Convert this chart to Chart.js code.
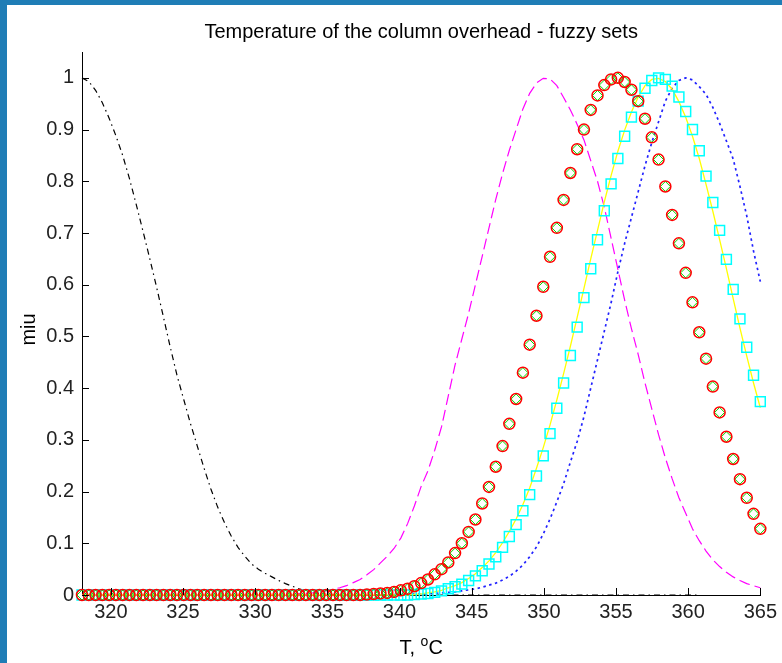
<!DOCTYPE html>
<html>
<head>
<meta charset="utf-8">
<script src="https://cdn.jsdelivr.net/npm/chart.js@4.4.1/dist/chart.umd.min.js"></script>
<style>
  html, body { margin: 0; padding: 0; background: #fff; }
  #frame {
    position: absolute; left: 0; top: 0;
    width: 782px; height: 663px; box-sizing: border-box;
    border-left: 7px solid #1f7db6; border-top: 5px solid #1f7db6;
    background: #fff;
  }
  canvas { display: block; }
</style>
</head>
<body>
<div id="frame"><canvas id="fuzzyChart" width="775" height="658"></canvas></div>
<script>
// Temperature grid, degC (101 samples from 318 to 365)
const temps = [
  318.00, 318.47, 318.94, 319.41, 319.88, 320.35, 320.82, 321.29, 321.76, 322.23,
  322.70, 323.17, 323.64, 324.11, 324.58, 325.05, 325.52, 325.99, 326.46, 326.93,
  327.40, 327.87, 328.34, 328.81, 329.28, 329.75, 330.22, 330.69, 331.16, 331.63,
  332.10, 332.57, 333.04, 333.51, 333.98, 334.45, 334.92, 335.39, 335.86, 336.33,
  336.80, 337.27, 337.74, 338.21, 338.68, 339.15, 339.62, 340.09, 340.56, 341.03,
  341.50, 341.97, 342.44, 342.91, 343.38, 343.85, 344.32, 344.79, 345.26, 345.73,
  346.20, 346.67, 347.14, 347.61, 348.08, 348.55, 349.02, 349.49, 349.96, 350.43,
  350.90, 351.37, 351.84, 352.31, 352.78, 353.25, 353.72, 354.19, 354.66, 355.13,
  355.60, 356.07, 356.54, 357.01, 357.48, 357.95, 358.42, 358.89, 359.36, 359.83,
  360.30, 360.77, 361.24, 361.71, 362.18, 362.65, 363.12, 363.59, 364.06, 364.53,
  365.00
];

// black dash-dot set (low temperature)
const lowSet = [
  1.000, 0.993, 0.976, 0.952, 0.922, 0.888, 0.850, 0.805, 0.755, 0.703,
  0.650, 0.595, 0.538, 0.480, 0.425, 0.378, 0.331, 0.288, 0.245, 0.205,
  0.170, 0.140, 0.114, 0.092, 0.075, 0.060, 0.050, 0.042, 0.035, 0.028,
  0.022, 0.017, 0.012, 0.008, 0.005, 0.003, 0.002, 0.001, 0, 0,
  0, 0, 0, 0, 0, 0, 0, 0, 0, 0,
  0, 0, 0, 0, 0, 0, 0, 0, 0, 0,
  0, 0, 0, 0, 0, 0, 0, 0, 0, 0,
  0, 0, 0, 0, 0, 0, 0, 0, 0, 0,
  0, 0, 0, 0, 0, 0, 0, 0, 0, 0,
  0, 0, null, null, null, null, null, null, null, null,
  null
];

// magenta dashed set
const magentaSet = [
  0, 0, 0, 0, 0, 0, 0, 0, 0, 0,
  0, 0, 0, 0, 0, 0, 0, 0, 0, 0,
  0, 0, 0, 0, 0, 0, 0, 0, 0, 0,
  0.001, 0.001, 0.002, 0.003, 0.004, 0.006, 0.008, 0.011, 0.014, 0.018,
  0.024, 0.030, 0.039, 0.049, 0.062, 0.075, 0.090, 0.110, 0.138, 0.172,
  0.210, 0.240, 0.280, 0.325, 0.385, 0.445, 0.495, 0.545, 0.600, 0.655,
  0.710, 0.765, 0.815, 0.860, 0.900, 0.940, 0.970, 0.990, 0.999, 0.998,
  0.985, 0.962, 0.938, 0.910, 0.880, 0.840, 0.800, 0.750, 0.690, 0.630,
  0.570, 0.515, 0.465, 0.410, 0.360, 0.310, 0.265, 0.225, 0.188, 0.158,
  0.128, 0.105, 0.085, 0.068, 0.055, 0.044, 0.035, 0.028, 0.022, 0.018,
  0.014
];

// blue dotted set
const blueSet = [
  0, 0, 0, 0, 0, 0, 0, 0, 0, 0,
  0, 0, 0, 0, 0, 0, 0, 0, 0, 0,
  0, 0, 0, 0, 0, 0, 0, 0, 0, 0,
  0, 0, 0, 0, 0, 0, 0, 0, 0, 0,
  0, 0, 0, 0, 0, 0, 0.001, 0.001, 0.001, 0.002,
  0.002, 0.003, 0.003, 0.004, 0.005, 0.006, 0.008, 0.010, 0.012, 0.015,
  0.019, 0.023, 0.029, 0.036, 0.046, 0.058, 0.074, 0.093, 0.118, 0.147,
  0.180, 0.215, 0.257, 0.297, 0.345, 0.400, 0.455, 0.510, 0.565, 0.625,
  0.680, 0.730, 0.780, 0.830, 0.875, 0.915, 0.955, 0.980, 0.995, 1.000,
  0.996, 0.983, 0.968, 0.943, 0.912, 0.878, 0.843, 0.790, 0.733, 0.665,
  0.606
];

// yellow solid set
const yellowSet = [
  0, 0, 0, 0, 0, 0, 0, 0, 0, 0,
  0, 0, 0, 0, 0, 0, 0, 0, 0, 0,
  0, 0, 0, 0, 0, 0, 0, 0, 0, 0,
  0, 0, 0, 0, 0, 0, 0, 0, 0, 0,
  0, 0, 0, 0, 0, 0, 0, 0, 0, 0.001,
  0.002, 0.004, 0.006, 0.009, 0.014, 0.018, 0.024, 0.032, 0.041, 0.053,
  0.066, 0.082, 0.101, 0.123, 0.147, 0.175, 0.207, 0.245, 0.285, 0.329,
  0.377, 0.428, 0.481, 0.537, 0.593, 0.650, 0.705, 0.760, 0.811, 0.858,
  0.899, 0.934, 0.963, 0.985, 0.997, 0.999, 0.993, 0.978, 0.954, 0.924,
  0.887, 0.844, 0.794, 0.742, 0.687, 0.631, 0.573, 0.516, 0.462, 0.410,
  0.362
];

// cyan squares
const cyanSet = [
  0, 0, 0, 0, 0, 0, 0, 0, 0, 0,
  0, 0, 0, 0, 0, 0, 0, 0, 0, 0,
  0, 0, 0, 0, 0, 0, 0, 0, 0, 0,
  0, 0, 0, 0, 0, 0, 0, 0, 0, 0,
  0, 0, 0, 0, 0, 0, 0, 0, 0, 0.001,
  0.002, 0.003, 0.005, 0.008, 0.012, 0.016, 0.021, 0.028, 0.037, 0.047,
  0.060, 0.074, 0.092, 0.113, 0.136, 0.163, 0.194, 0.230, 0.269, 0.312,
  0.361, 0.410, 0.463, 0.518, 0.575, 0.631, 0.687, 0.743, 0.795, 0.844,
  0.887, 0.924, 0.955, 0.980, 0.995, 1.000, 0.997, 0.984, 0.963, 0.935,
  0.900, 0.859, 0.810, 0.759, 0.705, 0.649, 0.591, 0.534, 0.479, 0.425,
  0.374
];

// red circles / green diamonds (same set)
const redSet = [
  0, 0, 0, 0, 0, 0, 0, 0, 0, 0,
  0, 0, 0, 0, 0, 0, 0, 0, 0, 0,
  0, 0, 0, 0, 0, 0, 0, 0, 0, 0,
  0, 0, 0, 0, 0, 0, 0, 0, 0, 0,
  0, 0, 0.001, 0.002, 0.003, 0.004, 0.006, 0.009, 0.012, 0.017,
  0.023, 0.030, 0.040, 0.050, 0.063, 0.081, 0.100, 0.122, 0.146, 0.177,
  0.209, 0.248, 0.288, 0.331, 0.379, 0.430, 0.484, 0.540, 0.596, 0.654,
  0.710, 0.764, 0.816, 0.862, 0.900, 0.938, 0.966, 0.986, 0.997, 1.000,
  0.992, 0.977, 0.955, 0.921, 0.885, 0.842, 0.790, 0.735, 0.680, 0.623,
  0.566, 0.508, 0.457, 0.403, 0.353, 0.306, 0.263, 0.224, 0.188, 0.157,
  0.128
];

const xTicks = [320, 325, 330, 335, 340, 345, 350, 355, 360, 365];
const yTicks = [0, 0.1, 0.2, 0.3, 0.4, 0.5, 0.6, 0.7, 0.8, 0.9, 1];
const yTickLabels = ['0', '0.1', '0.2', '0.3', '0.4', '0.5', '0.6', '0.7', '0.8', '0.9', '1'];

const FONT = '"Liberation Sans", Arial, Helvetica, sans-serif';
const TITLE = 'Temperature of the column overhead - fuzzy sets';

function pts(values) {
  return temps.map((t, i) => ({ x: t, y: values[i] }));
}

// inner tick marks, title and axis labels
const decorPlugin = {
  id: 'decor',
  afterDraw(chart) {
    const { ctx, chartArea, scales } = chart;
    ctx.save();
    ctx.strokeStyle = '#000';
    ctx.lineWidth = 1;
    ctx.beginPath();
    yTicks.forEach(v => {
      const y = Math.round(scales.y.getPixelForValue(v)) + 0.5;
      ctx.moveTo(chartArea.left, y);
      ctx.lineTo(chartArea.left + 7, y);
    });
    xTicks.forEach(v => {
      const x = Math.round(scales.x.getPixelForValue(v)) + 0.5;
      ctx.moveTo(x, chartArea.bottom);
      ctx.lineTo(x, chartArea.bottom - 7);
    });
    ctx.stroke();

    const cx = (chartArea.left + chartArea.right) / 2;
    ctx.fillStyle = '#000';
    ctx.font = '20px ' + FONT;
    ctx.textAlign = 'center';
    ctx.textBaseline = 'middle';
    ctx.fillText(TITLE, cx, 27);

    // x label: T, degC with superscript o
    ctx.textAlign = 'left';
    ctx.textBaseline = 'alphabetic';
    const a = 'T, ', c = 'C';
    const wa = ctx.measureText(a).width;
    const wc = ctx.measureText(c).width;
    ctx.font = '14px ' + FONT;
    const wo = ctx.measureText('o').width;
    let x0 = cx - (wa + wo + wc) / 2;
    const base = 649;
    ctx.font = '20px ' + FONT;
    ctx.fillText(a, x0, base);
    ctx.font = '14px ' + FONT;
    ctx.fillText('o', x0 + wa, base - 8);
    ctx.font = '20px ' + FONT;
    ctx.fillText(c, x0 + wa + wo, base);

    // y label
    ctx.translate(22, (chartArea.top + chartArea.bottom) / 2 + 6);
    ctx.rotate(-Math.PI / 2);
    ctx.textAlign = 'center';
    ctx.textBaseline = 'middle';
    ctx.fillText('miu', 0, 0);
    ctx.restore();
  }
};

const ctx = document.getElementById('fuzzyChart').getContext('2d');

new Chart(ctx, {
  type: 'line',
  data: {
    datasets: [
      {
        data: pts(redSet), showLine: false, order: 0, clip: false,
        pointStyle: 'circle', pointRadius: 5.5, pointBorderWidth: 1.5,
        pointBorderColor: '#ff0000', pointBackgroundColor: 'rgba(0,0,0,0)'
      },
      {
        data: pts(redSet), showLine: false, order: 1, clip: false,
        pointStyle: 'rectRot', pointRadius: 5, pointBorderWidth: 1,
        pointBorderColor: '#00dd00', pointBackgroundColor: 'rgba(0,0,0,0)'
      },
      {
        data: pts(cyanSet), showLine: false, order: 2, clip: false,
        pointStyle: 'rect', pointRadius: 7, pointBorderWidth: 1.5,
        pointBorderColor: '#00ffff', pointBackgroundColor: 'rgba(0,0,0,0)'
      },
      {
        data: pts(yellowSet), order: 3, clip: false,
        borderColor: '#ffff00', borderWidth: 1.3, pointRadius: 0, tension: 0
      },
      {
        data: pts(blueSet), order: 4, clip: false,
        borderColor: '#2222ff', borderWidth: 1.7, borderDash: [2.5, 3.5], pointRadius: 0, tension: 0
      },
      {
        data: pts(magentaSet), order: 5, clip: false,
        borderColor: '#ff00ff', borderWidth: 1.2, borderDash: [11, 5], pointRadius: 0, tension: 0
      },
      {
        data: pts(lowSet), order: 6, clip: false, spanGaps: false,
        borderColor: '#000000', borderWidth: 1.2, borderDash: [6, 4, 1.5, 4], pointRadius: 0, tension: 0
      }
    ]
  },
  options: {
    responsive: false,
    animation: false,
    devicePixelRatio: 1,
    layout: { padding: { top: 47, right: 17, left: 0, bottom: 0 } },
    plugins: {
      legend: { display: false },
      tooltip: { enabled: false },
      title: { display: false }
    },
    scales: {
      x: {
        type: 'linear',
        min: 318,
        max: 365,
        afterBuildTicks: scale => { scale.ticks = xTicks.map(v => ({ value: v })); },
        afterFit: scale => { scale.height = 68; },
        grid: { display: false, drawTicks: false },
        border: { display: true, color: '#000', width: 1 },
        ticks: {
          color: '#222',
          font: { family: FONT, size: 20 },
          padding: 5,
          maxRotation: 0,
          autoSkip: false,
          callback: v => String(v)
        }
      },
      y: {
        type: 'linear',
        min: 0,
        max: 1.05,
        afterBuildTicks: scale => { scale.ticks = yTicks.map(v => ({ value: v })); },
        afterFit: scale => { scale.width = 75; },
        grid: { display: false, drawTicks: false },
        border: { display: true, color: '#000', width: 1 },
        ticks: {
          color: '#222',
          font: { family: FONT, size: 20 },
          padding: 8,
          autoSkip: false,
          callback: (v) => {
            const i = yTicks.findIndex(t => Math.abs(t - v) < 1e-6);
            return i >= 0 ? yTickLabels[i] : '';
          }
        }
      }
    }
  },
  plugins: [decorPlugin]
});
</script>
</body>
</html>
